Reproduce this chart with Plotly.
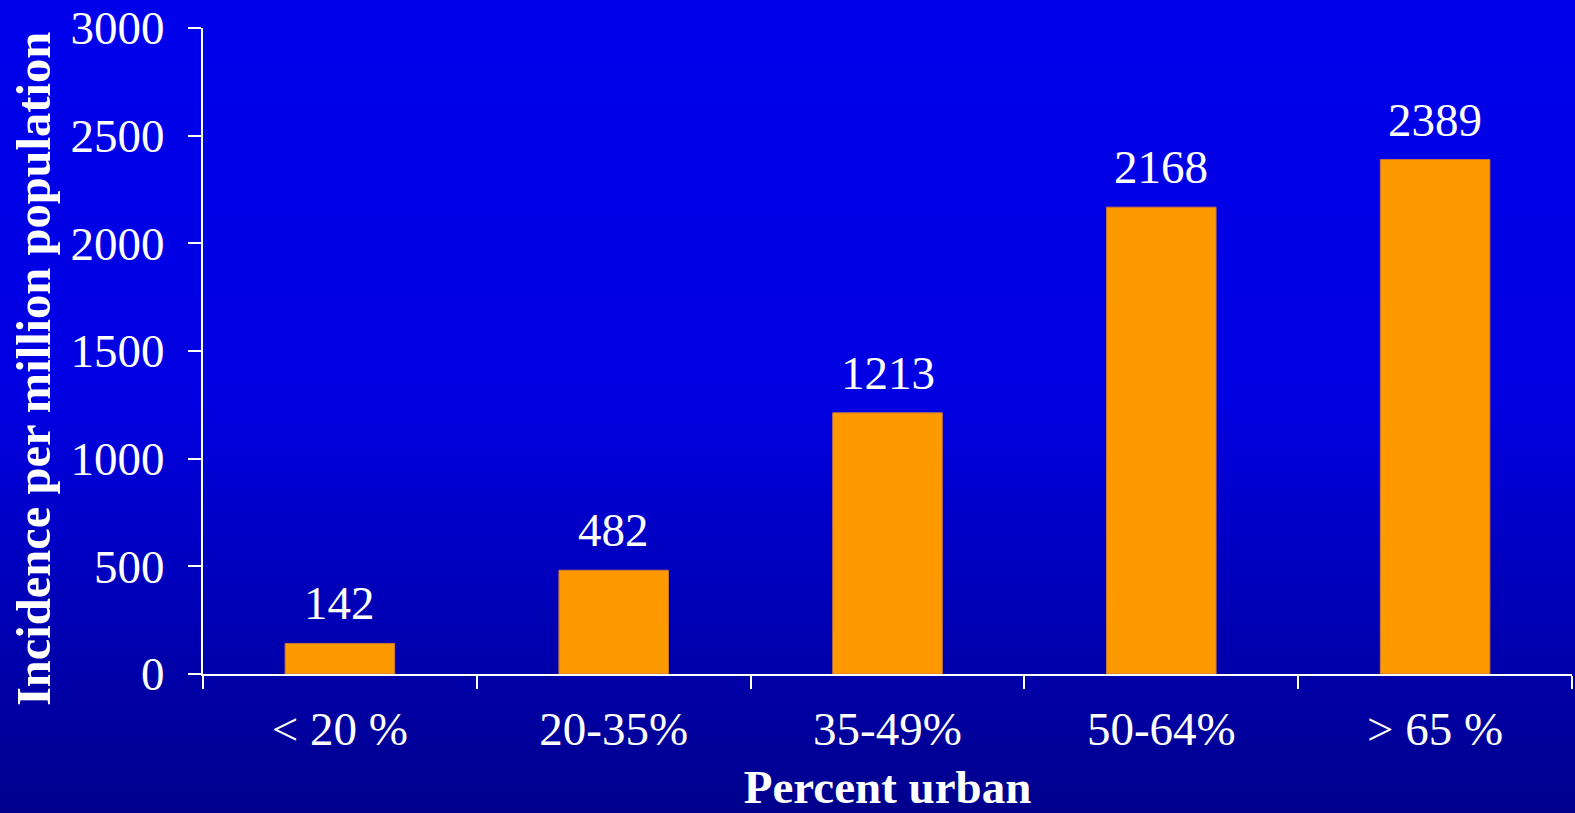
import plotly.graph_objects as go

# Incidence by degree of urbanisation
categories = ["< 20 %", "20-35%", "35-49%", "50-64%", "> 65 %"]
incidence = [142, 482, 1213, 2168, 2389]
y_ticks = [0, 500, 1000, 1500, 2000, 2500, 3000]

W, H = 1575, 813
M_L, M_R, M_T, M_B = 203, 3, 28, 139
FONT = "Liberation Serif, Times New Roman, serif"
WHITE = "#FFFFFF"
BAR = "#FF9900"

fig = go.Figure(
    go.Bar(
        x=categories,
        y=incidence,
        marker=dict(color=BAR, line=dict(color="#C8783C", width=1)),
        width=0.4,
        hoverinfo="skip",
    )
)

# value labels above each bar
for cat, val in zip(categories, incidence):
    fig.add_annotation(
        x=cat, y=val, text=str(val), showarrow=False,
        xanchor="center", yanchor="bottom", yshift=12,
        font=dict(family=FONT, size=47, color=WHITE),
    )

# vertical background gradient, bright blue to navy
shapes = []
n = 120
plot_h = H - M_T - M_B
for i in range(n):
    y0 = i / n
    y1 = (i + 1) / n
    py = (1 - (y0 + y1) / 2) * H  # pixel from top
    if py < 400:
        b = 235 - 10 * py / 400
    else:
        b = 225 - 85 * (py - 400) / (H - 400)
    shapes.append(dict(
        type="rect", xref="paper", yref="paper", layer="below",
        x0=-M_L / (W - M_L - M_R) - 0.01, x1=1 + 0.02,
        y0=-M_B / plot_h + y0 * H / plot_h - 0.001,
        y1=-M_B / plot_h + y1 * H / plot_h + 0.001,
        fillcolor=f"rgb(0,0,{int(round(b))})", line=dict(width=0),
    ))

fig.add_annotation(
    xref="paper", yref="paper",
    x=(33 - M_L) / (W - M_L - M_R), y=(H - M_B - 369) / plot_h,
    text="<b>Incidence per million population</b>", textangle=-90,
    showarrow=False, xanchor="center", yanchor="middle",
    font=dict(family=FONT, size=48.5, color=WHITE),
)

fig.update_layout(
    width=W, height=H,
    margin=dict(l=M_L, r=M_R, t=M_T, b=M_B, pad=0),
    paper_bgcolor="rgb(0,0,200)",
    plot_bgcolor="rgba(0,0,0,0)",
    shapes=shapes,
    showlegend=False,
    bargap=0.6,
    font=dict(family=FONT, size=47, color=WHITE),
)

fig.update_xaxes(
    showgrid=False, showline=True, linecolor=WHITE, linewidth=2,
    ticks="outside", ticklen=13, tickwidth=2, tickcolor=WHITE,
    tickson="boundaries", ticklabelstandoff=13,
    tickfont=dict(family=FONT, size=47, color=WHITE),
    title=dict(text="<b>Percent urban</b>", standoff=21,
               font=dict(family=FONT, size=47, color=WHITE)),
    fixedrange=True,
)

fig.update_yaxes(
    range=[0, 3000], tickvals=y_ticks, showgrid=False, zeroline=False,
    showline=True, linecolor=WHITE, linewidth=2,
    ticks="outside", ticklen=13, tickwidth=2, tickcolor=WHITE,
    ticklabelstandoff=14,
    tickfont=dict(family=FONT, size=47, color=WHITE),
    fixedrange=True,
)

fig.write_html("out.html", config={"displayModeBar": False})
